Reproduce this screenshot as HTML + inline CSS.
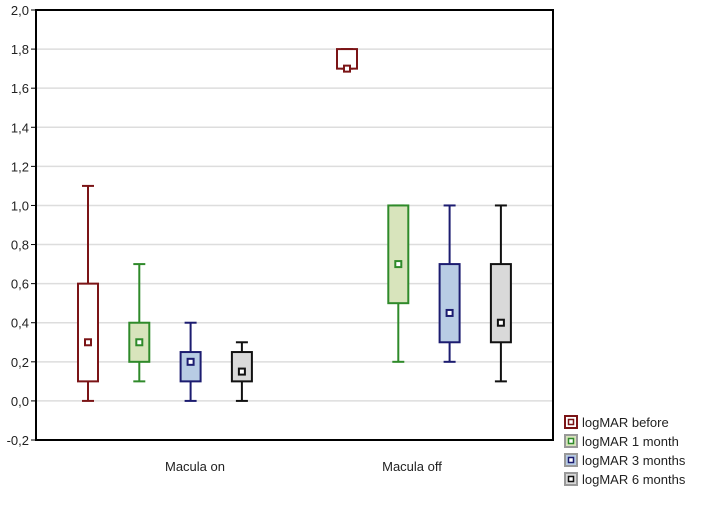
<!DOCTYPE html>
<html><head><meta charset="utf-8"><style>body{margin:0;background:#fff}svg{font-family:"Liberation Sans",sans-serif}</style></head>
<body>
<svg id="c" width="709" height="502"></svg>
<script>
const categories=["Macula on","Macula off"];
const seriesNames=["logMAR before","logMAR 1 month","logMAR 3 months","logMAR 6 months"];
const mins=[[0,0.1,0,0],[1.7,0.2,0.2,0.1]];
const q1s=[[0.1,0.2,0.1,0.1],[1.7,0.5,0.3,0.3]];
const medians=[[0.3,0.3,0.2,0.15],[1.7,0.7,0.45,0.4]];
const q3s=[[0.6,0.4,0.25,0.25],[1.8,1.0,0.7,0.7]];
const maxs=[[1.1,0.7,0.4,0.3],[1.8,1.0,1.0,1.0]];
const yTicks=[-0.2,0,0.2,0.4,0.6,0.8,1.0,1.2,1.4,1.6,1.8,2.0];
const strokes=["#7b1416","#2f8a2a","#1c1c70","#111"];
const fills=["#fff","#d8e4bc","#b8cce4","#d9d9d9"];
const NS="http://www.w3.org/2000/svg",svg=document.getElementById("c");
const L=36,R=553,T=10,B=440;
const y=v=>B-(v+0.2)/2.2*(B-T);
const catX=[88,347],step=51.3;
const x=(c,s)=>catX[c]+s*step;
function add(t,a,p){const e=document.createElementNS(NS,t);for(const k in a)e.setAttribute(k,a[k]);(p||svg).appendChild(e);return e;}
yTicks.forEach(v=>{
 if(v>-0.2&&v<2){const g=add("line",{x1:L,x2:R,y1:y(v),y2:y(v),stroke:"#ddd","stroke-width":1.5});
 
 }
 const tk=add("line",{x1:L-5,x2:L,y1:y(v),y2:y(v),stroke:"#000"});
 
 
 const t=add("text",{x:L-7,y:y(v)+5,"text-anchor":"end","font-size":13,fill:"#222"});
 t.textContent=v.toFixed(1).replace(".",",");
 
 
});
const frame=add("rect",{x:L,y:T,width:R-L,height:B-T,fill:"none",stroke:"#000","stroke-width":2});


categories.forEach((c,ci)=>{
 const t=add("text",{x:ci==0?195:412,y:471,"text-anchor":"middle","font-size":13,fill:"#222"});
 t.textContent=c;
 
 
 seriesNames.forEach((s,si)=>{
  const g=add("g",{});
  
  
  const cx=x(ci,si),col=strokes[si];
  add("line",{x1:cx,x2:cx,y1:y(maxs[ci][si]),y2:y(mins[ci][si]),stroke:col,"stroke-width":2},g);
  [maxs[ci][si],mins[ci][si]].forEach(v=>add("line",{x1:cx-6,x2:cx+6,y1:y(v),y2:y(v),stroke:col,"stroke-width":2},g));
  add("rect",{x:cx-10,y:y(q3s[ci][si]),width:20,height:Math.max(0,y(q1s[ci][si])-y(q3s[ci][si])),fill:fills[si],stroke:col,"stroke-width":2},g);
  add("rect",{x:cx-3,y:y(medians[ci][si])-3,width:6,height:6,fill:"#fff",stroke:col,"stroke-width":2},g);
 });
});
seriesNames.forEach((s,si)=>{
 const g=add("g",{});
 
 
 const ly=423+si*19;
 add("rect",{x:565,y:ly-7,width:12,height:12,fill:fills[si]=="#fff"?"#fff":fills[si],stroke:si==0?strokes[0]:"#999","stroke-width":2},g);
 add("rect",{x:568.5,y:ly-3.5,width:5,height:5,fill:"#fff",stroke:strokes[si],"stroke-width":1.5},g);
 const t=add("text",{x:582,y:ly+4,"font-size":13,fill:"#222"},g);
 t.textContent=s;
});
</script>
</body></html>
